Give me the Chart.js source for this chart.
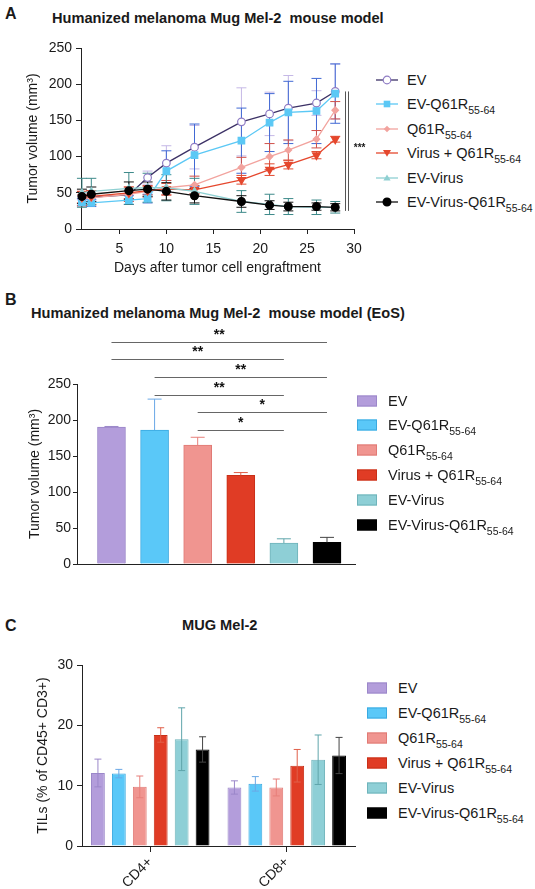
<!DOCTYPE html>
<html>
<head>
<meta charset="utf-8">
<script src="https://cdn.jsdelivr.net/npm/chart.js@4.4.1/dist/chart.umd.min.js"></script>
<style>
  body { margin: 0; width: 535px; height: 889px; background: #fff; position: relative; overflow: hidden;
         font-family: Arial, "Liberation Sans", Helvetica, sans-serif; color: #1a1a1a; }
  canvas { position: absolute; left: 0; }
  .txt { position: absolute; white-space: pre; transform: translateY(-50%); }
  .letter { font-weight: bold; font-size: 16px; line-height: 16px; }
  .title { font-weight: bold; font-size: 14.6px; line-height: 15px; }
  .leg { font-size: 14.5px; line-height: 15px; white-space: nowrap; }
  .leg sub { font-size: 10.5px; vertical-align: -5px; line-height: 0; }
  .mk { position: absolute; transform: translateY(-50%); }
  .sw { position: absolute; width: 20px; height: 11px; box-sizing: border-box; border: 1px solid; transform: translateY(-50%); }
</style>
</head>
<body>
<div class="txt letter" style="left:5px;top:14px">A</div>
<div class="txt title" style="left:52px;top:18px">Humanized melanoma Mug Mel-2  mouse model</div>
<div class="txt letter" style="left:5px;top:300px">B</div>
<div class="txt title" style="left:31px;top:313px">Humanized melanoma Mug Mel-2  mouse model (EoS)</div>
<div class="txt letter" style="left:5px;top:626px">C</div>
<div class="txt title" style="left:182px;top:625px">MUG Mel-2</div>

<canvas id="chartA" width="375" height="260" style="top:30px"></canvas>
<canvas id="chartB" width="360" height="270" style="top:320px"></canvas>
<canvas id="chartC" width="360" height="249" style="top:640px"></canvas>
<div id="legends"></div>

<script>
'use strict';

// values
const days = [1, 2, 6, 8, 10, 13, 18, 21, 23, 26, 28];
const dayTicks = [5, 10, 15, 20, 25, 30];
const groupNames = ['EV', 'EV-Q61R', 'Q61R', 'Virus + Q61R', 'EV-Virus', 'EV-Virus-Q61R'];
const groupSubs = ['', '55-64', '55-64', '55-64', '', '55-64'];

// panel A: tumor volume (mm3) per day, mean and SD
const evVol = [41, 44, 47, 71, 91, 113, 148, 159, 167, 174, 190];
const evQ61rVol = [37, 36, 40, 42, 80, 102, 122, 147, 161, 163, 187];
const q61rVol = [42, 43, 48, 52, 57, 61, 85, 100, 109, 124, 164];
const virusQ61rVol = [44, 45, 50, 53, 55, 54, 68, 82, 89, 102, 124];
const evVirusVol = [50, 52, 56, 57, 57, 52, 38, 34, 31, 30, 30];
const evVirusQ61rVol = [45, 48, 53, 55, 52, 46, 38, 33, 31, 31, 30];

const evSd = [5, 5, 8, 9, 24, 30, 47, 30, 45, 17, 38];
const evQ61rSd = [5, 5, 6, 6, 28, 43, 45, 40, 43, 45, 41];
const q61rSd = [10, 10, 10, 8, 10, 12, 14, 18, 14, 12, 12];
const virusQ61rSd = [8, 8, 8, 6, 8, 6, 6, 8, 6, 5, 4];
const evVirusSd = [20, 18, 22, 20, 18, 18, 15, 14, 11, 10, 8];
const evVirusQ61rSd = [10, 10, 12, 10, 12, 10, 8, 6, 6, 5, 5];

// panel B: end of study volume (mm3)
const eosVol = [190, 186, 165, 123, 29, 30];
const eosSd = [1, 43, 11, 4, 6, 7];
const sigPairs = [[0, 5], [0, 4], [1, 5], [1, 4], [2, 5], [2, 4]];
const sigStars = ['**', '**', '**', '**', '*', '*'];

// panel C: TILs (% of CD45+ CD3+)
const cellTypes = ['CD4+', 'CD8+'];
const cd4Pct = [12.1, 12.0, 9.8, 18.4, 17.7, 16.0];
const cd8Pct = [9.7, 10.3, 9.7, 13.3, 14.3, 15.0];
const cd4Sd = [2.3, 0.7, 1.8, 1.2, 5.2, 2.1];
const cd8Sd = [1.1, 1.2, 1.4, 2.7, 4.1, 3.0];

// styles
const ink = '#1a1a1a';
const lineCol = ['#3c3166', '#5bc8f5', '#f2a39e', '#e5472d', '#8fd0d2', '#111111'];
const ptFill = ['#ffffff', '#5bc8f5', '#f2a39e', '#e5472d', '#8fd0d2', '#000000'];
const ptEdge = ['#8f7cc4', '#5bc8f5', '#f2a39e', '#e5472d', '#8fd0d2', '#000000'];
const ptStyle = ['circle', 'rect', 'rectRot', 'triangle', 'triangle', 'circle'];
const ptRot = [0, 0, 0, 180, 0, 0];
const ptRadius = [3.8, 4.6, 3.3, 4.5, 3.8, 3.9];
const errColA = ['#c5b8e6', '#4169d4', '#d0504a', '#e04a30', '#3d8a8a', '#111111'];
const barFill = ['#b39ddb', '#5ac8f8', '#f09590', '#e03c25', '#8ecfd6', '#000000'];
const barEdge = ['#9b87c9', '#3aa9e0', '#e07a75', '#c83018', '#6fb3ba', '#000000'];
const errColBar = ['#9b87c9', '#6aa8e6', '#e77f7a', '#e0604a', '#5fa5ab', '#444444'];

Chart.defaults.font.family = 'Arial, "Liberation Sans", Helvetica, sans-serif';
Chart.defaults.color = ink;

const axisGrid = { display: true, drawOnChartArea: false, drawTicks: true, tickLength: 5, color: '#222', lineWidth: 1 };
const axisBorder = { display: true, color: '#222', width: 1 };

function errorBars(id, getErr, colorFor, both, cap, hook) {
  const plugin = { id: id };
  plugin[hook] = function (chart) {
    const ctx = chart.ctx;
    const y = chart.scales.y;
    ctx.save();
    ctx.lineWidth = 1;
    chart.data.datasets.forEach((ds, i) => {
      const meta = chart.getDatasetMeta(i);
      meta.data.forEach((el, j) => {
        const raw = ds.data[j];
        const v = typeof raw === 'object' ? raw.y : raw;
        const e = getErr(i, j);
        const top = y.getPixelForValue(v + e);
        const bot = both ? y.getPixelForValue(v - e) : el.y;
        ctx.strokeStyle = colorFor(i, j);
        ctx.beginPath();
        ctx.moveTo(el.x, top);
        ctx.lineTo(el.x, bot);
        ctx.moveTo(el.x - cap, top);
        ctx.lineTo(el.x + cap, top);
        if (both) {
          ctx.moveTo(el.x - cap, bot);
          ctx.lineTo(el.x + cap, bot);
        }
        ctx.stroke();
      });
    });
    ctx.restore();
  };
  return plugin;
}

// ---------- panel A ----------
const seriesA = [evVol, evQ61rVol, q61rVol, virusQ61rVol, evVirusVol, evVirusQ61rVol];
const sdA = [evSd, evQ61rSd, q61rSd, virusQ61rSd, evVirusSd, evVirusQ61rSd];

const sigA = {
  id: 'sigA',
  afterDraw(chart) {
    const ctx = chart.ctx, x = chart.scales.x, y = chart.scales.y;
    const top = y.getPixelForValue(evVol[evVol.length - 1]);
    const bot = y.getPixelForValue(25);
    ctx.save();
    ctx.strokeStyle = '#555';
    ctx.lineWidth = 1;
    [29.05, 29.4].forEach(d => {
      const px = Math.round(x.getPixelForValue(d)) + 0.5;
      ctx.beginPath();
      ctx.moveTo(px, top);
      ctx.lineTo(px, bot);
      ctx.stroke();
    });
    ctx.fillStyle = ink;
    ctx.font = 'bold 10px Arial, "Liberation Sans", sans-serif';
    ctx.textAlign = 'center';
    ctx.textBaseline = 'middle';
    ctx.fillText('***', x.getPixelForValue(30.6), (top + bot) / 2 - 3);
    ctx.restore();
  }
};

new Chart(document.getElementById('chartA'), {
  type: 'line',
  data: {
    datasets: seriesA.map((vals, i) => ({
      label: groupNames[i],
      data: days.map((d, j) => ({ x: d, y: vals[j] })),
      borderColor: lineCol[i],
      borderWidth: 1.3,
      pointStyle: ptStyle[i],
      pointRotation: ptRot[i],
      pointRadius: ptRadius[i],
      pointBackgroundColor: ptFill[i],
      pointBorderColor: ptEdge[i],
      pointBorderWidth: 1.2,
      clip: false,
      order: 5 - i
    }))
  },
  options: {
    responsive: false,
    animation: false,
    layout: { padding: { top: 18, right: 21, bottom: 0, left: 0 } },
    plugins: { legend: { display: false }, tooltip: { enabled: false } },
    scales: {
      x: {
        type: 'linear', min: 0.9, max: 30,
        afterBuildTicks: s => { s.ticks = dayTicks.map(v => ({ value: v })); },
        afterFit: s => { s.height = 61; },
        grid: axisGrid, border: axisBorder,
        ticks: { font: { size: 14 }, padding: 7 },
        title: { display: true, text: 'Days after tumor cell engraftment', font: { size: 14 }, padding: { top: 0, bottom: 13 } }
      },
      y: {
        min: 0, max: 250,
        afterFit: s => { s.width = 81; },
        grid: axisGrid, border: axisBorder,
        ticks: { stepSize: 50, font: { size: 14 }, padding: 4 },
        title: { display: true, text: 'Tumor volume (mm³)', font: { size: 14 }, padding: { top: 25, bottom: 0 } }
      }
    }
  },
  plugins: [errorBars('errA', (i, j) => sdA[i][j], i => errColA[i], true, 5, 'beforeDatasetsDraw'), sigA]
});

// ---------- panel B ----------
const sigB = {
  id: 'sigB',
  afterDraw(chart) {
    const ctx = chart.ctx, x = chart.scales.x, y = chart.scales.y;
    ctx.save();
    ctx.lineWidth = 1;
    ctx.strokeStyle = '#666';
    ctx.fillStyle = '#111';
    ctx.font = 'bold 14px Arial, "Liberation Sans", sans-serif';
    ctx.textAlign = 'center';
    ctx.textBaseline = 'middle';
    sigPairs.forEach((p, k) => {
      const yy = Math.round(y.getPixelForValue(309 - k * 24.6)) + 0.5;
      const x1 = x.getPixelForValue(p[0]), x2 = x.getPixelForValue(p[1]);
      ctx.beginPath();
      ctx.moveTo(x1, yy);
      ctx.lineTo(x2, yy);
      ctx.stroke();
      ctx.fillText(sigStars[k], (x1 + x2) / 2, yy - 7);
    });
    ctx.restore();
  }
};

new Chart(document.getElementById('chartB'), {
  type: 'bar',
  data: {
    datasets: [{
      data: eosVol.map((v, i) => ({ x: i, y: v })),
      backgroundColor: barFill,
      borderColor: barEdge,
      borderWidth: 1,
      barThickness: 28
    }]
  },
  options: {
    responsive: false,
    animation: false,
    layout: { padding: { top: 64, right: 5, bottom: 0, left: 0 } },
    plugins: { legend: { display: false }, tooltip: { enabled: false } },
    scales: {
      x: {
        type: 'linear', min: -0.8, max: 5.65, offset: false,
        afterFit: s => { s.height = 26; },
        ticks: { display: false }, grid: { display: false }, border: axisBorder
      },
      y: {
        min: 0, max: 250,
        afterFit: s => { s.width = 77; },
        grid: Object.assign({}, axisGrid, { tickLength: 4 }), border: axisBorder,
        ticks: { stepSize: 50, font: { size: 14 }, padding: 2 },
        title: { display: true, text: 'Tumor volume (mm³)', font: { size: 14 }, padding: { top: 27, bottom: 0 } }
      }
    }
  },
  plugins: [errorBars('errB', (i, j) => eosSd[j], (i, j) => errColBar[j], false, 7, 'afterDatasetsDraw'), sigB]
});

// ---------- panel C ----------
const sdC = [cd4Sd, cd8Sd];
new Chart(document.getElementById('chartC'), {
  type: 'bar',
  data: {
    labels: cellTypes,
    datasets: groupNames.map((n, i) => ({
      label: n,
      data: [cd4Pct[i], cd8Pct[i]],
      backgroundColor: barFill[i],
      borderColor: barEdge[i],
      borderWidth: 1,
      categoryPercentage: 0.92,
      barPercentage: 0.66
    }))
  },
  options: {
    responsive: false,
    animation: false,
    layout: { padding: { top: 25, right: 5, bottom: 0, left: 0 } },
    plugins: { legend: { display: false }, tooltip: { enabled: false } },
    scales: {
      x: {
        afterFit: s => { s.height = 43; },
        grid: Object.assign({}, axisGrid, { offset: false, tickLength: 6 }), border: axisBorder,
        ticks: { font: { size: 14 }, minRotation: 45, maxRotation: 45, autoSkip: false, padding: 2 }
      },
      y: {
        min: 0, max: 30,
        afterFit: s => { s.width = 82; },
        grid: axisGrid, border: axisBorder,
        ticks: { stepSize: 10, font: { size: 14 }, padding: 4 },
        title: { display: true, text: 'TILs (% of CD45+ CD3+)', font: { size: 14 }, padding: { top: 35, bottom: 0 } }
      }
    }
  },
  plugins: [errorBars('errC', (i, j) => sdC[j][i], i => errColBar[i], true, 3.5, 'afterDatasetsDraw')]
});

// ---------- legends (html, for the subscripts) ----------
function label(i) {
  return groupSubs[i] ? `${groupNames[i]}<sub>${groupSubs[i]}</sub>` : groupNames[i];
}
function markerA(i) {
  const c = 11, m = 7;
  let shape;
  if (ptStyle[i] === 'circle') {
    shape = `<circle cx="${c}" cy="${m}" r="${ptRadius[i]}" fill="${ptFill[i]}" stroke="${ptEdge[i]}" stroke-width="1.2"/>`;
  } else if (ptStyle[i] === 'rect') {
    shape = `<rect x="${c - 3.3}" y="${m - 3.3}" width="6.6" height="6.6" fill="${ptFill[i]}"/>`;
  } else if (ptStyle[i] === 'rectRot') {
    shape = `<polygon points="${c},${m - 3.3} ${c + 3.3},${m} ${c},${m + 3.3} ${c - 3.3},${m}" fill="${ptFill[i]}"/>`;
  } else if (ptRot[i] === 180) {
    shape = `<polygon points="${c - 4},${m - 3} ${c + 4},${m - 3} ${c},${m + 3.8}" fill="${ptFill[i]}"/>`;
  } else {
    shape = `<polygon points="${c - 3.6},${m + 2.6} ${c + 3.6},${m + 2.6} ${c},${m - 3.6}" fill="${ptFill[i]}"/>`;
  }
  return `<svg width="22" height="14"><line x1="0" y1="${m}" x2="22" y2="${m}" stroke="${lineCol[i]}" stroke-width="1.3"/>${shape}</svg>`;
}

let html = '';
groupNames.forEach((n, i) => {
  const ya = 80 + i * 24.4;
  html += `<div class="mk" style="left:376px;top:${ya}px;height:14px">${markerA(i)}</div>`;
  html += `<div class="txt leg" style="left:407px;top:${ya}px">${label(i)}</div>`;
  const yb = 400.5 + i * 24.8;
  html += `<div class="sw" style="left:357px;top:${yb}px;background:${barFill[i]};border-color:${barEdge[i]}"></div>`;
  html += `<div class="txt leg" style="left:388px;top:${yb}px">${label(i)}</div>`;
  const yc = 688 + i * 25;
  html += `<div class="sw" style="left:367px;top:${yc}px;background:${barFill[i]};border-color:${barEdge[i]}"></div>`;
  html += `<div class="txt leg" style="left:398px;top:${yc}px">${label(i)}</div>`;
});
document.getElementById('legends').innerHTML = html;
</script>
</body>
</html>
